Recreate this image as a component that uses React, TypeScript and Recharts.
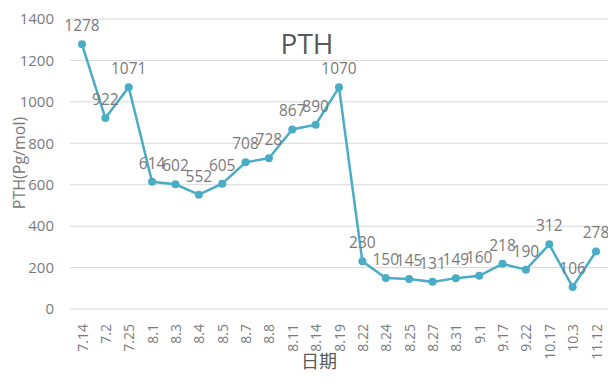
import { LineChart, Line, XAxis, YAxis, CartesianGrid, LabelList } from 'recharts';

const dates = ['7.14', '7.2', '7.25', '8.1', '8.3', '8.4', '8.5', '8.7', '8.8', '8.11', '8.14', '8.19', '8.22', '8.24', '8.25', '8.27', '8.31', '9.1', '9.17', '9.22', '10.17', '10.3', '11.12'];
const pth = [1278, 922, 1071, 614, 602, 552, 605, 708, 728, 867, 890, 1070, 230, 150, 145, 131, 149, 160, 218, 190, 312, 106, 278];
const yTicks = [0, 200, 400, 600, 800, 1000, 1200, 1400];

const FONT = '"Open Sans", "Noto Sans CJK SC", sans-serif';
const GREY = '#595959';
const TICK = '#7a7a7a';
const LINE = '#4bacc6';

const data = dates.map((d, i) => ({ date: d, pth: pth[i] }));

function DateTick({ x, y, payload }: any) {
  return (
    <text x={x} y={y + 7} transform={`rotate(-90 ${x} ${y + 7})`} textAnchor="end" dominantBaseline="central"
      fill={TICK} fontSize={14} fontFamily={FONT}>
      {payload.value}
    </text>
  );
}

export default function App() {
  return (
    <div style={{ position: 'absolute', left: 0, top: 0, width: 608, height: 389, background: '#fff' }}>
      <LineChart width={608} height={389} data={data} margin={{ top: 19, right: 0, left: 0, bottom: 0 }}>
        <CartesianGrid vertical={false} stroke="#d9d9d9" />
        <XAxis dataKey="date" interval={0} axisLine={false} tickLine={false} height={80}
          padding={{ left: 12, right: 12 }} tick={<DateTick />} />
        <YAxis domain={[0, 1400]} ticks={yTicks} width={70} axisLine={false} tickLine={false}
          tick={{ fill: TICK, fontSize: 15, fontFamily: FONT, dx: -8 }} />
        <text x={307} y={43} textAnchor="middle" dominantBaseline="central" fill={GREY} fontSize={28} fontFamily={FONT}>PTH</text>
        <text x={19} y={163} textAnchor="middle" dominantBaseline="central" transform="rotate(-90 19 163)"
          fill={TICK} fontSize={16} fontFamily={FONT}>PTH(Pg/mol)</text>
        <text x={319} y={361} textAnchor="middle" dominantBaseline="central" fill={GREY} fontSize={18} fontFamily={FONT}>日期</text>
        <Line dataKey="pth" stroke={LINE} strokeWidth={2.5} isAnimationActive={false}
          dot={{ r: 4, fill: LINE, stroke: LINE, strokeWidth: 0 }}>
          <LabelList dataKey="pth" position="top" offset={13} fill={TICK} fontSize={15.5} fontFamily={FONT} />
        </Line>
      </LineChart>
    </div>
  );
}
